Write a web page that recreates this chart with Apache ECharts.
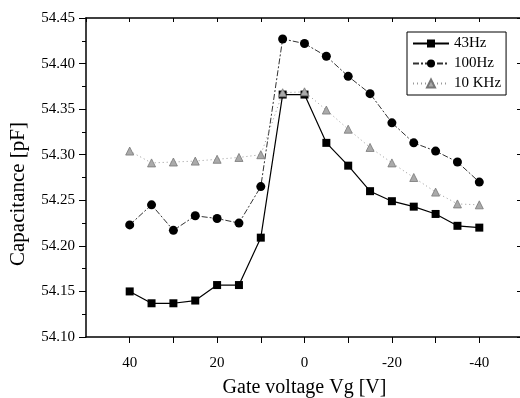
<!DOCTYPE html>
<html>
<head>
<meta charset="utf-8">
<script src="https://cdn.jsdelivr.net/npm/echarts@6/dist/echarts.min.js"></script>
<style>
  html, body { margin: 0; padding: 0; background: #fff; }
  #chart { width: 520px; height: 398px; }
</style>
</head>
<body>
<div id="chart"></div>
<script>
const gateVoltage = [40, 35, 30, 25, 20, 15, 10, 5, 0, -5, -10, -15, -20, -25, -30, -35, -40];
const cap43Hz = [54.150, 54.137, 54.137, 54.140, 54.157, 54.157, 54.209, 54.366, 54.366, 54.313, 54.288, 54.260, 54.249, 54.243, 54.235, 54.222, 54.220];
const cap100Hz = [54.223, 54.245, 54.217, 54.233, 54.230, 54.225, 54.265, 54.427, 54.422, 54.408, 54.386, 54.367, 54.335, 54.313, 54.304, 54.292, 54.270];
const cap10KHz = [54.304, 54.291, 54.292, 54.293, 54.295, 54.297, 54.300, 54.368, 54.369, 54.349, 54.328, 54.308, 54.291, 54.275, 54.259, 54.246, 54.245];
const xLabels = [40, 20, 0, -20, -40];

const font = "Liberation Serif";
const pairs = (ys) => gateVoltage.map((x, i) => [x, ys[i]]);

const chart = echarts.init(document.getElementById("chart"));

const option = {
  animation: false,
  backgroundColor: "#fff",
  textStyle: { fontFamily: font, color: "#000" },
  grid: { left: 86, right: -3, top: 18, bottom: 61, outerBoundsMode: "none", containLabel: false },
  // y title sits a bit below the axis centre in the original
  graphic: [
    {
      type: "text",
      x: 18,
      y: 194,
      rotation: Math.PI / 2,
      style: {
        text: "Capacitance [pF]",
        font: "21px 'Liberation Serif'",
        fill: "#000",
        align: "center",
        verticalAlign: "middle",
      },
    },
  ],
  legend: {
    orient: "vertical",
    left: 407,
    top: 32,
    padding: [4, 5, 4, 5],
    borderColor: "#000",
    borderWidth: 1,
    itemWidth: 36,
    itemHeight: 10,
    itemGap: 5,
    textStyle: { fontFamily: font, fontSize: 15, color: "#000" },
    data: ["43Hz", "100Hz", "10 KHz"],
  },
  xAxis: [
    {
      type: "value",
      inverse: true,
      min: -50,
      max: 50,
      interval: 10,
      name: "Gate voltage Vg [V]",
      nameLocation: "middle",
      nameGap: 41,
      nameTextStyle: { fontFamily: font, fontSize: 20, color: "#000" },
      axisLine: { onZero: false, lineStyle: { color: "#000", width: 1.5 } },
      axisTick: { inside: false, length: 6, lineStyle: { color: "#000" } },
      axisLabel: {
        margin: 19,
        fontFamily: font,
        fontSize: 15,
        color: "#000",
        showMinLabel: false,
        showMaxLabel: false,
        formatter: (v) => (xLabels.includes(v) ? String(v) : ""),
      },
      splitLine: { show: false },
    },
    {
      type: "value",
      position: "top",
      inverse: true,
      min: -50,
      max: 50,
      interval: 10,
      axisLine: { onZero: false, lineStyle: { color: "#000", width: 1.5 } },
      axisTick: { inside: true, length: 4, lineStyle: { color: "#000" } },
      axisLabel: { show: false },
      splitLine: { show: false },
    },
  ],
  yAxis: [
    {
      type: "value",
      min: 54.1,
      max: 54.45,
      interval: 0.05,
      axisLine: { show: true, onZero: false, lineStyle: { color: "#000", width: 1.5 } },
      axisTick: { show: true, inside: false, length: 7, lineStyle: { color: "#000" } },
      minorTick: { show: true, splitNumber: 2, length: 4, lineStyle: { color: "#000" } },
      axisLabel: {
        margin: 11,
        fontFamily: font,
        fontSize: 15,
        color: "#000",
        formatter: (v) => v.toFixed(2),
      },
      splitLine: { show: false },
    },
    {
      type: "value",
      position: "right",
      min: 54.1,
      max: 54.45,
      interval: 0.05,
      axisLine: { show: true, onZero: false, lineStyle: { color: "#000", width: 1.5 } },
      axisTick: { show: true, inside: true, length: 6, lineStyle: { color: "#000" } },
      minorTick: { show: true, splitNumber: 2, length: 3, lineStyle: { color: "#000" } },
      axisLabel: { show: false },
      splitLine: { show: false },
    },
  ],
  series: [
    {
      name: "43Hz",
      type: "line",
      data: pairs(cap43Hz),
      symbol: "rect",
      symbolSize: 8,
      itemStyle: { color: "#000" },
      lineStyle: { color: "#000", width: 1.2, type: "solid" },
    },
    {
      name: "100Hz",
      type: "line",
      data: pairs(cap100Hz),
      symbol: "circle",
      symbolSize: 9,
      itemStyle: { color: "#000" },
      lineStyle: { color: "#333", width: 1, type: [6, 2, 2, 2] },
    },
    {
      name: "10 KHz",
      type: "line",
      data: pairs(cap10KHz),
      symbol: "triangle",
      symbolSize: 8,
      itemStyle: { color: "#aaa", borderColor: "#777", borderWidth: 0.8 },
      lineStyle: { color: "#999", width: 1, type: [1, 3] },
    },
  ],
};

chart.setOption(option);
</script>
</body>
</html>
